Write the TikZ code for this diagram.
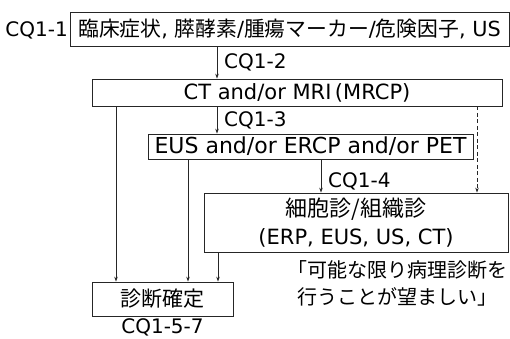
\documentclass[tikz,border=0pt]{standalone}
\usepackage{fontspec}
\setmainfont{DejaVu Sans}
\newfontfamily\ja{Noto Sans CJK JP}
\usetikzlibrary{arrows.meta}
\begin{document}
\begin{tikzpicture}[x=1pt,y=-1pt,
  box/.style={draw=black!85,line width=0.8pt,inner sep=0pt,align=center,font=\fontsize{21}{28}\selectfont},
  lbl/.style={inner sep=0pt,font=\fontsize{20}{22}\selectfont},
  arr/.style={draw=black!85,line width=0.7pt,-{Stealth[length=5pt,width=3.5pt]}}]
\useasboundingbox (0,0) rectangle (510,338);
\node[box,minimum width=439pt,minimum height=34pt,font=\fontsize{20.8}{26}\selectfont] (b1) at (289.5,29) {{\ja 臨床症状}, {\ja 膵酵素}/{\ja 腫瘍マーカー}/{\ja 危険因子}, US};
\node[box,minimum width=410pt,minimum height=27pt] (b2) at (297,92.5) {CT and/or MRI\,(MRCP)};
\node[box,minimum width=325pt,minimum height=25pt,font=\fontsize{22}{28}\selectfont] (b3) at (310.5,146.5) {EUS and/or ERCP and/or PET};
\node[box,minimum width=304pt,minimum height=59pt] (b4) at (356,222.5) {{\ja\fontsize{22}{28}\selectfont 細胞診/組織診}\\(ERP, EUS, US, CT)};
\node[box,minimum width=141pt,minimum height=34pt] (b5) at (162.5,299) {{\ja 診断確定}};
\node[lbl,anchor=east] (q1) at (68,30) {CQ1-1};
\node[lbl,anchor=west] (q2) at (224,62) {CQ1-2};
\node[lbl,anchor=west] (q3) at (224,120) {CQ1-3};
\node[lbl,anchor=west] (q4) at (328,181) {CQ1-4};
\node[lbl] (q5) at (162.5,327) {CQ1-5-7};
\node[inner sep=0pt,align=center,font=\ja\fontsize{20}{27}\selectfont] (note) at (397,283.5) {「可能な限り病理診断を\\行うことが望ましい」};
\coordinate (xa) at (217,0);
\coordinate (xb) at (321,0);
\coordinate (xc) at (477,0);
\coordinate (xd) at (116,0);
\coordinate (xe) at (188,0);
\coordinate (xf) at (218,0);
\draw[arr] (b1.south -| xa) -- (b2.north -| xa);
\draw[arr] (b2.south -| xa) -- (b3.north -| xa);
\draw[arr] (b3.south -| xb) -- (b4.north -| xb);
\draw[arr,dashed,dash pattern=on 4pt off 2.5pt] (b2.south -| xc) -- (b4.north -| xc);
\draw[arr] (b2.south -| xd) -- (b5.north -| xd);
\draw[arr] (b3.south -| xe) -- (b5.north -| xe);
\draw[arr] (b4.south -| xf) -- (b5.north -| xf);
\end{tikzpicture}
\end{document}
